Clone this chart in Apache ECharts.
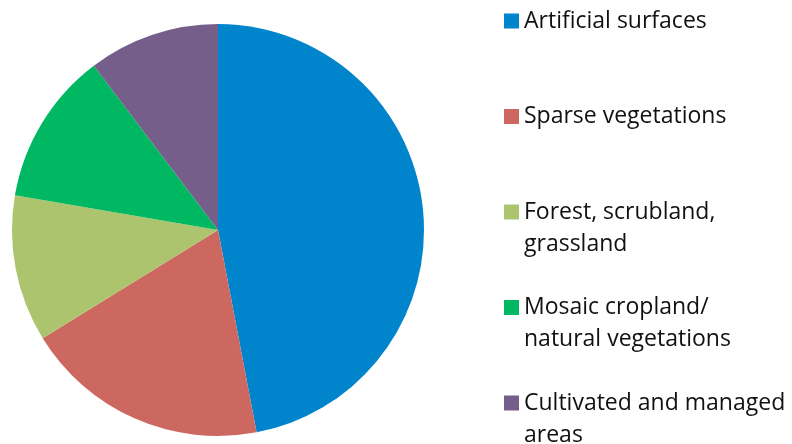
<!DOCTYPE html>
<html>
<head>
<meta charset="utf-8">
<script src="https://cdn.jsdelivr.net/npm/echarts@6/dist/echarts.min.js"></script>
<style>html,body{margin:0;padding:0;background:#fff}#c{width:792px;height:444px}</style>
</head>
<body>
<div id="c"></div>
<script>
const categories = ['Artificial surfaces', 'Sparse vegetations', 'Forest, scrubland, grassland', 'Mosaic cropland/ natural vegetations', 'Cultivated and managed areas'];
const legendLines = [['Artificial surfaces'], ['Sparse vegetations'], ['Forest, scrubland,', 'grassland'], ['Mosaic cropland/', 'natural vegetations'], ['Cultivated and managed', 'areas']];
const values = [47.0, 19.2, 11.5, 12.0, 10.3];
const colors = ['#0084CB', '#CD6861', '#ADC46E', '#00B862', '#755E8A'];

const markerCenters = [18.5, 114, 209.5, 305, 400.5];
const LH = 32;
const legends = categories.map((name, i) => {
  const lines = legendLines[i];
  const multi = lines.length > 1;
  return {
    show: true,
    left: 504,
    top: multi ? markerCenters[i] - 1.5 * LH : markerCenters[i] - LH / 2,
    padding: 0,
    orient: 'vertical',
    icon: 'rect',
    itemWidth: 15,
    itemHeight: 15,
    itemGap: 0,
    selectedMode: false,
    data: [name],
    formatter: () => multi ? '\n' + lines.join('\n') : lines[0],
    textStyle: { fontFamily: 'Open Sans', fontSize: 23, color: '#111', lineHeight: LH, padding: [5, 0, 0, 0] }
  };
});

const chart = echarts.init(document.getElementById('c'), null, { renderer: 'canvas' });
chart.setOption({
  animation: false,
  color: colors,
  legend: legends,
  series: [{
    type: 'pie',
    center: [218, 230],
    radius: 206,
    startAngle: 90,
    clockwise: true,
    label: { show: false },
    labelLine: { show: false },
    itemStyle: { borderWidth: 0 },
    emphasis: { disabled: true },
    data: categories.map((n, i) => ({ name: n, value: values[i] }))
  }]
});
</script>
</body>
</html>
